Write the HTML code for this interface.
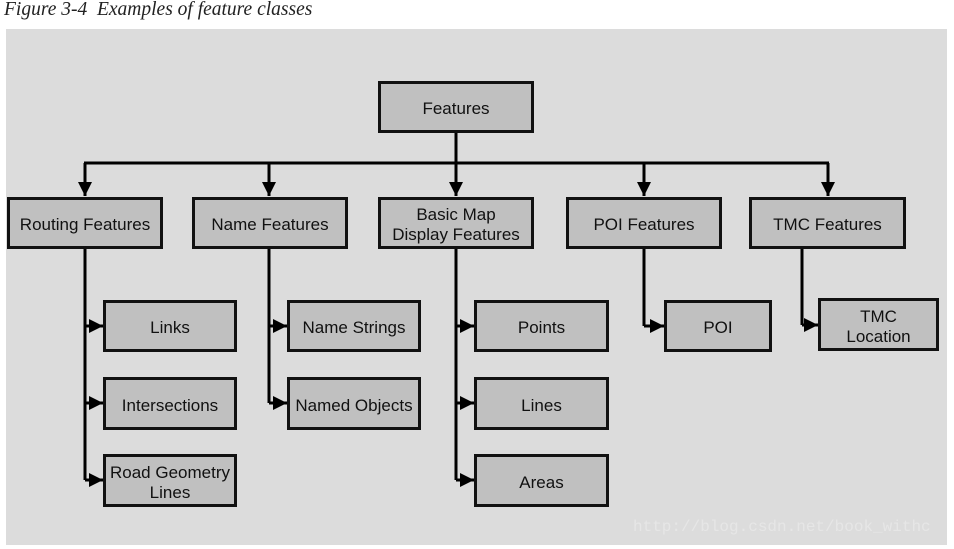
<!DOCTYPE html>
<html><head><style>
body{margin:0;width:954px;height:549px;background:#fff;position:relative;overflow:hidden;font-family:"Liberation Sans",sans-serif}
.cap{position:absolute;left:4px;top:-1px;font-family:"Liberation Serif",serif;font-style:italic;font-size:19.5px;color:#222}
.bg{position:absolute;left:6px;top:29px;width:941px;height:516px;background:#dcdcdc}
.b{position:absolute;box-sizing:border-box;border:3px solid #111;background:#c0c0c0;display:flex;align-items:center;justify-content:center;text-align:center;font-size:17px;color:#111;line-height:20px;padding-top:4px}
.wm{position:absolute;left:633px;top:518px;font-family:"Liberation Mono",monospace;font-size:16px;color:#e6e6e6}
</style></head><body>
<div class="cap">Figure 3-4&nbsp; Examples of feature classes</div>
<div class="bg"></div>
<svg width="954" height="549" style="position:absolute;left:0;top:0">
<defs>
<marker id="d" viewBox="0 0 10 10" markerWidth="14" markerHeight="14" refX="10" refY="5" orient="auto" markerUnits="userSpaceOnUse"><path d="M0,0 L10,5 L0,10z" fill="#000"/></marker></defs>
<g stroke="#000" stroke-width="3" fill="none">
<line x1="456" y1="132" x2="456" y2="196" marker-end="url(#d)"/>
<line x1="84" y1="163" x2="829" y2="163"/>
<line x1="85" y1="163" x2="85" y2="196" marker-end="url(#d)"/>
<line x1="269" y1="163" x2="269" y2="196" marker-end="url(#d)"/>
<line x1="644" y1="163" x2="644" y2="196" marker-end="url(#d)"/>
<line x1="828" y1="163" x2="828" y2="196" marker-end="url(#d)"/>
<line x1="85" y1="248" x2="85" y2="480"/>
<line x1="85" y1="326" x2="103" y2="326" marker-end="url(#d)"/>
<line x1="85" y1="403" x2="103" y2="403" marker-end="url(#d)"/>
<line x1="85" y1="480" x2="103" y2="480" marker-end="url(#d)"/>
<line x1="269" y1="248" x2="269" y2="403"/>
<line x1="269" y1="326" x2="287" y2="326" marker-end="url(#d)"/>
<line x1="269" y1="403" x2="287" y2="403" marker-end="url(#d)"/>
<line x1="456" y1="248" x2="456" y2="480"/>
<line x1="456" y1="326" x2="474" y2="326" marker-end="url(#d)"/>
<line x1="456" y1="403" x2="474" y2="403" marker-end="url(#d)"/>
<line x1="456" y1="480" x2="474" y2="480" marker-end="url(#d)"/>
<line x1="644" y1="248" x2="644" y2="326"/>
<line x1="644" y1="326" x2="664" y2="326" marker-end="url(#d)"/>
<line x1="802" y1="248" x2="802" y2="325"/>
<line x1="802" y1="325" x2="818" y2="325" marker-end="url(#d)"/>
</g></svg>
<div class="b" style="left:378px;top:81px;width:156px;height:52px">Features</div>
<div class="b" style="left:7px;top:197px;width:156px;height:52px">Routing Features</div>
<div class="b" style="left:192px;top:197px;width:156px;height:52px">Name Features</div>
<div class="b" style="left:378px;top:197px;width:156px;height:52px">Basic Map<br>Display Features</div>
<div class="b" style="left:566px;top:197px;width:156px;height:52px">POI Features</div>
<div class="b" style="left:749px;top:197px;width:157px;height:52px">TMC Features</div>
<div class="b" style="left:103px;top:300px;width:134px;height:52px">Links</div>
<div class="b" style="left:103px;top:377px;width:134px;height:53px">Intersections</div>
<div class="b" style="left:103px;top:454px;width:134px;height:53px">Road Geometry<br>Lines</div>
<div class="b" style="left:287px;top:300px;width:134px;height:52px">Name Strings</div>
<div class="b" style="left:287px;top:377px;width:134px;height:53px">Named Objects</div>
<div class="b" style="left:474px;top:300px;width:135px;height:52px">Points</div>
<div class="b" style="left:474px;top:377px;width:135px;height:53px">Lines</div>
<div class="b" style="left:474px;top:454px;width:135px;height:53px">Areas</div>
<div class="b" style="left:664px;top:300px;width:108px;height:52px">POI</div>
<div class="b" style="left:818px;top:298px;width:121px;height:53px">TMC<br>Location</div>
<div class="wm">http://blog.csdn.net/book_withc</div>
</body></html>
